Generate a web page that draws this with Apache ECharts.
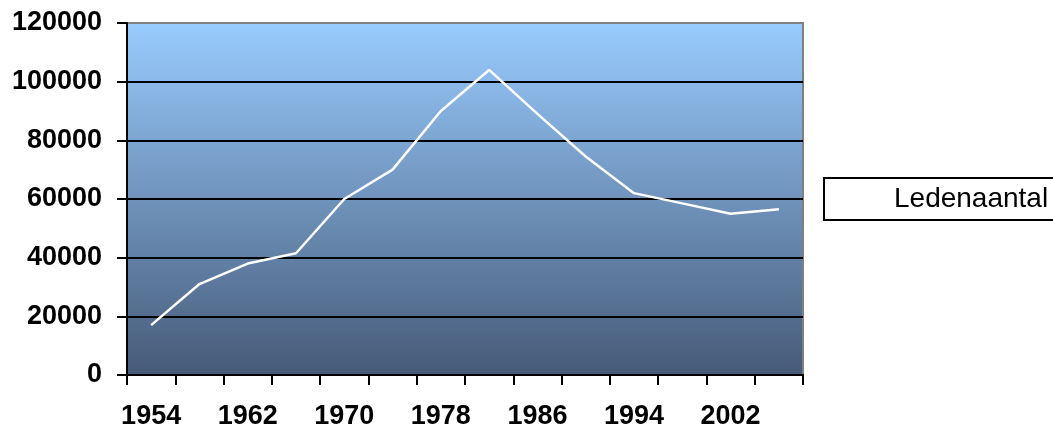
<!DOCTYPE html>
<html>
<head>
<meta charset="utf-8">
<script src="https://cdn.jsdelivr.net/npm/echarts@6/dist/echarts.min.js"></script>
<style>
html,body{margin:0;padding:0;background:#fff;}
#chart{width:1053px;height:427px;}
</style>
</head>
<body>
<div id="chart"></div>
<script>
const years = ['1954','1958','1962','1966','1970','1974','1978','1982','1986','1990','1994','1998','2002','2006'];
const ledenaantal = [17000, 31000, 38000, 41500, 60000, 70000, 90000, 104000, 89000, 74500, 62000, 58500, 55000, 56500];
const seriesName = 'Ledenaantal';

const chart = echarts.init(document.getElementById('chart'));
chart.setOption({
  animation: false,
  grid: {
    left: 127, right: 250, top: 23, bottom: 52,
    containLabel: false,
    outerBoundsMode: 'none',
    show: true,
    backgroundColor: new echarts.graphic.LinearGradient(0, 0, 0, 1, [
      {offset: 0, color: '#99CCFF'},
      {offset: 1, color: '#465A78'}
    ]),
    borderColor: '#808080',
    borderWidth: 2
  },
  legend: {
    left: 824, top: 178,
    orient: 'vertical',
    data: [seriesName],
    borderColor: '#000',
    borderWidth: 2,
    padding: [7, 40, 7, 14],
    itemWidth: 50,
    itemHeight: 14,
    textStyle: {fontFamily: 'Liberation Sans, Arial, sans-serif', fontSize: 28, color: '#000'}
  },
  xAxis: {
    type: 'category',
    data: years,
    boundaryGap: true,
    axisLine: {lineStyle: {color: '#000', width: 2}},
    axisTick: {show: true, interval: 0, length: 10, lineStyle: {color: '#000', width: 2}},
    axisLabel: {interval: 1, margin: 28, color: '#000', fontWeight: 'bold', fontSize: 27, fontFamily: 'Liberation Sans, Arial, sans-serif'},
    splitLine: {show: false}
  },
  yAxis: {
    type: 'value',
    min: 0, max: 120000, interval: 20000,
    axisLine: {show: true, lineStyle: {color: '#000', width: 2}},
    axisTick: {show: true, length: 10, lineStyle: {color: '#000', width: 2}},
    axisLabel: {margin: 25, color: '#000', fontWeight: 'bold', fontSize: 27, fontFamily: 'Liberation Sans, Arial, sans-serif',
      formatter: function (v) { return String(v); }},
    splitLine: {show: true, lineStyle: {color: ['#000','#000','#000','#000','#000','#000','#808080'], width: 2}}
  },
  series: [{
    name: seriesName,
    type: 'line',
    data: ledenaantal,
    showSymbol: false,
    symbol: 'none',
    lineStyle: {color: '#fff', width: 2.5},
    itemStyle: {color: '#fff'}
  }]
});
</script>
</body>
</html>
